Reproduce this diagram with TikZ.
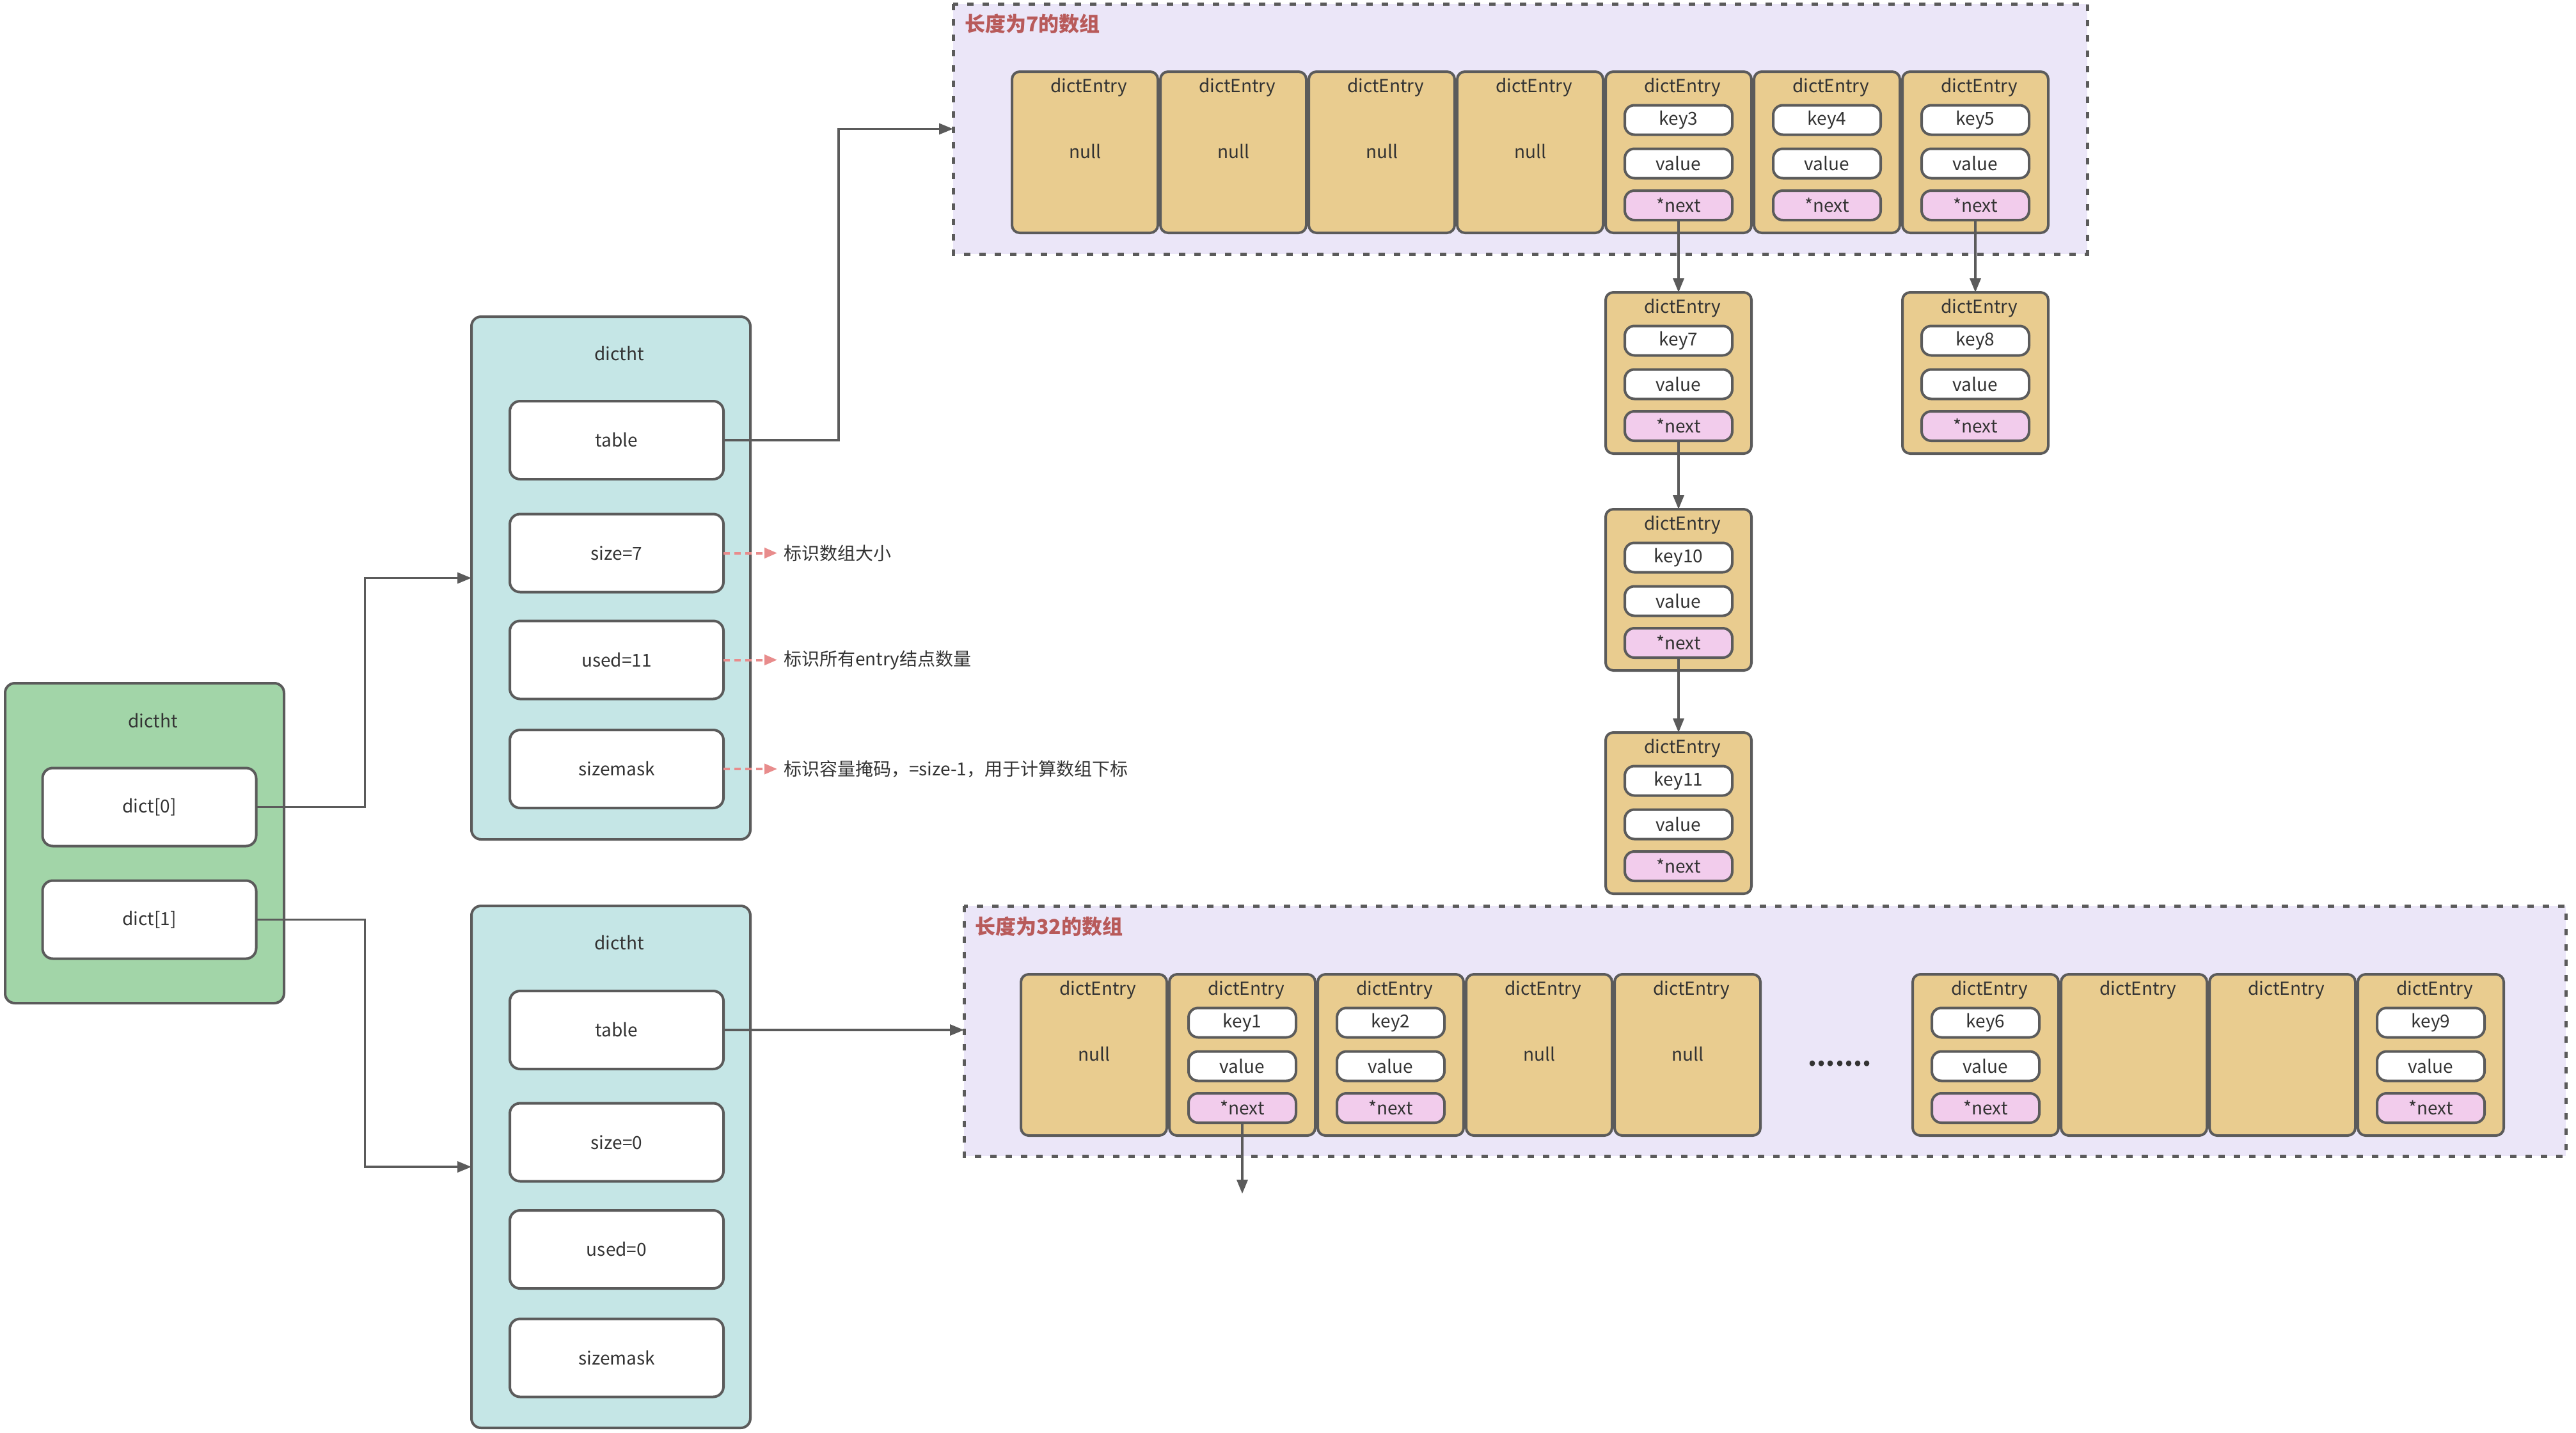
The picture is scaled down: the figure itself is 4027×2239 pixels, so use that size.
\documentclass[tikz,border=0pt]{standalone}
\usepackage{fontspec}
\setmainfont{Noto Sans CJK SC}
\usetikzlibrary{arrows.meta,calc}
\definecolor{lineC}{HTML}{5B5B5B}
\definecolor{entryC}{HTML}{E9CC8F}
\definecolor{nextC}{HTML}{F2CCEC}
\definecolor{arrC}{HTML}{EBE6F8}
\definecolor{htC}{HTML}{C5E6E6}
\definecolor{dictC}{HTML}{A2D5A8}
\definecolor{labC}{HTML}{B85A5A}
\definecolor{annoC}{HTML}{E88C8C}
\definecolor{txtC}{HTML}{333333}
\tikzset{
  base/.style={draw=lineC, line width=4pt, inner sep=0pt, outer sep=0pt, text=txtC, font=\fontsize{28}{34}\selectfont},
  entry/.style={base, fill=entryC, rounded corners=12pt, minimum width=228pt, minimum height=252pt, anchor=north west},
  kbox/.style={base, fill=white, rounded corners=15pt, minimum width=168pt, minimum height=46pt},
  nbox/.style={kbox, fill=nextC},
  plain/.style={inner sep=0pt, outer sep=0pt, text=txtC, font=\fontsize{28}{34}\selectfont},
  arrbox/.style={draw=lineC, fill=arrC, line width=5pt, dash pattern=on 10pt off 14pt},
  arrlabel/.style={inner sep=0pt, anchor=west, text=labC, font=\fontsize{32}{38}\selectfont\bfseries},
  htbox/.style={base, fill=htC, rounded corners=15pt, minimum width=436pt, minimum height=817pt, anchor=north west},
  fbox/.style={base, fill=white, rounded corners=16pt, minimum width=334pt, minimum height=122pt},
  dictbox/.style={base, fill=dictC, rounded corners=15pt, minimum width=436pt, minimum height=500pt, anchor=north west},
  conn/.style={draw=lineC, line width=3.5pt, -{Triangle[length=22pt,width=17pt]}},
  anno/.style={draw=annoC, line width=4pt, dash pattern=on 10pt off 7pt, -{Triangle[length=20pt,width=16pt]}},
  annotext/.style={anchor=west, inner xsep=10pt, inner ysep=0pt, outer sep=0pt, text=txtC, font=\fontsize{28}{34}\selectfont},
}
\newcommand\entryfull[4]{%
  \node[entry] (#1) at (#2,#3) {};
  \node[plain] (#1t) at ($(#1.north)+(6,25)$) {dictEntry};
  \node[kbox] (#1k) at ($(#1.north)+(0,75.5)$) {#4};
  \node[kbox] (#1v) at ($(#1.north)+(0,143.5)$) {value};
  \node[nbox] (#1n) at ($(#1.north)+(0,209)$) {*next};
}
\newcommand\entrynull[3]{%
  \node[entry] (#1) at (#2,#3) {};
  \node[plain] (#1t) at ($(#1.north)+(6,25)$) {dictEntry};
  \node[plain] (#1z) at ($(#1.north)+(0,125)$) {null};
}
\newcommand\entryempty[3]{%
  \node[entry] (#1) at (#2,#3) {};
  \node[plain] (#1t) at ($(#1.north)+(6,25)$) {dictEntry};
}
\begin{document}
\begin{tikzpicture}[x=1pt,y=-1pt]
\useasboundingbox (0,0) rectangle (4027,2239);
\fill[white] (0,0) rectangle (4027,2239);

% array boxes
\draw[arrbox] (1490,6) rectangle (3263,397);
\node[draw=none, minimum width=1773pt, minimum height=391pt, anchor=north west, inner sep=0pt, outer sep=0pt] (arr7) at (1490,6) {};
\node[arrlabel] (lab7) at (1508,37) {长度为7的数组};

\draw[arrbox] (1507,1416) rectangle (4011,1807);
\node[draw=none, minimum width=2504pt, minimum height=391pt, anchor=north west, inner sep=0pt, outer sep=0pt] (arr32) at (1507,1416) {};
\node[arrlabel] (lab32) at (1524,1448) {长度为32的数组};

% top row
\entrynull{Ea}{1582}{112}
\entrynull{Eb}{1814}{112}
\entrynull{Ec}{2046}{112}
\entrynull{Ed}{2278}{112}
\entryfull{Ee}{2510}{112}{key3}
\entryfull{Ef}{2742}{112}{key4}
\entryfull{Eg}{2974}{112}{key5}

% chains
\entryfull{Ch7}{2510}{457}{key7}
\entryfull{Ch10}{2510}{796}{key10}
\entryfull{Ch11}{2510}{1145}{key11}
\entryfull{Ch8}{2974}{457}{key8}

% bottom row
\entrynull{La}{1596}{1523}
\entryfull{Lb}{1828}{1523}{key1}
\entryfull{Lc}{2060}{1523}{key2}
\entrynull{Ld}{2292}{1523}
\entrynull{Le}{2524}{1523}
\node[inner sep=0pt, text=txtC, font=\fontsize{40}{48}\selectfont\bfseries] (dots) at (2876,1663) {.......};
\entryfull{Lf}{2990}{1523}{key6}
\entryempty{Lg}{3222}{1523}
\entryempty{Lh}{3454}{1523}
\entryfull{Li}{3686}{1523}{key9}

% dict
\node[dictbox] (dict) at (8,1068) {};
\node[plain] (dictT) at (239,1127) {dictht};
\node[fbox] (d0) at (233.5,1261.5) {dict[0]};
\node[fbox] (d1) at (233.5,1437.5) {dict[1]};

% upper dictht
\node[htbox] (ht1) at (737,495) {};
\node[plain] (ht1T) at (968,553) {dictht};
\node[fbox] (t1) at (964,688) {table};
\node[fbox] (s1) at (964,864.5) {size=7};
\node[fbox] (u1) at (964,1031.5) {used=11};
\node[fbox] (m1) at (964,1202) {sizemask};

% lower dictht
\node[htbox, minimum height=816pt] (ht2) at (737,1416) {};
\node[plain] (ht2T) at (968,1474) {dictht};
\node[fbox] (t2) at (964,1610) {table};
\node[fbox] (s2) at (964,1785.5) {size=0};
\node[fbox] (u2) at (964,1953) {used=0};
\node[fbox] (m2) at (964,2122.5) {sizemask};

% annotations
\node[annotext] (a1) at (1215,864.5) {标识数组大小};
\node[annotext] (a2) at (1215,1031.5) {标识所有entry结点数量};
\node[annotext] (a3) at (1215,1202) {标识容量掩码，=size-1，用于计算数组下标};
\draw[anno] (s1.east) -- (a1.west);
\draw[anno] (u1.east) -- (a2.west);
\draw[anno] (m1.east) -- (a3.west);

% connectors
\draw[conn] (d0.east) -- ++(170,0) |- (ht1.west);
\draw[conn] (d1.east) -- ++(170,0) |- (ht2.west);
\draw[conn] (t1.east) -- ++(180,0) |- (arr7.west);
\draw[conn] (t2.east) -- (t2.east -| arr32.west);
\draw[conn] (Een.south) -- (Ee.south |- Ch7.north);
\draw[conn] (Egn.south) -- (Eg.south |- Ch8.north);
\draw[conn] (Ch7n.south) -- (Ch10.north);
\draw[conn] (Ch10n.south) -- (Ch11.north);
\coordinate (lbend) at (1942,1866);
\draw[conn] (Lbn.south) -- (lbend);
\end{tikzpicture}
\end{document}
